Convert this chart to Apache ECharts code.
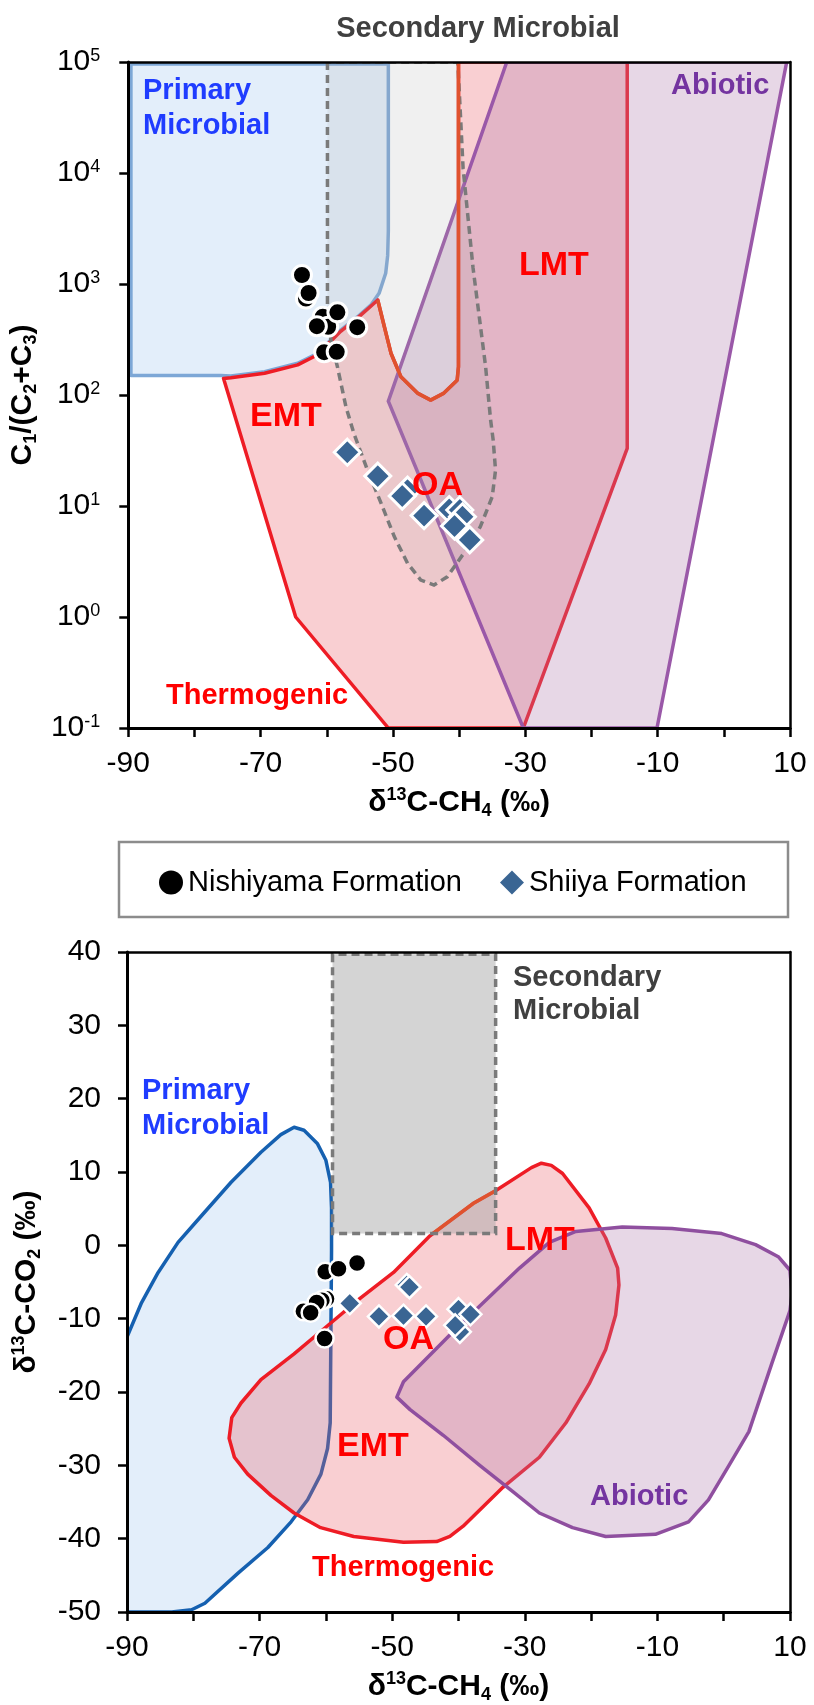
<!DOCTYPE html>
<html><head><meta charset="utf-8">
<script src="https://cdn.jsdelivr.net/npm/echarts@6/dist/echarts.min.js"></script>
<style>html,body{margin:0;padding:0;background:#fff}#c{width:814px;height:1705px}</style>
</head><body><div id="c"></div>
<script>
// ---------------- DATA ----------------
// Top chart: delta13C-CH4 (permil) vs C1/(C2+C3)
const nishiyamaTop = [[-63.15,740],[-60.6,507],[-59.8,412],[-60.4,243],[-63.75,1205],[-62.75,830],[-58.4,556],[-61.5,417],[-55.4,408],[-58.5,245]];
const shiiyaTop = [[-47.8,13.9],[-41.5,9.3],[-39.9,9.2],[-39.5,8.0],[-56.9,30.5],[-52.3,18.6],[-48.6,12.3],[-45.3,8.2],[-40.7,6.6],[-38.4,4.95]];
// Bottom chart: delta13C-CH4 vs delta13C-CO2 (permil)
const nishiyamaBottom = [[-59.9,-7.3],[-60.1,-3.6],[-58.1,-3.2],[-55.3,-2.4],[-60.6,-7.5],[-61.4,-7.8],[-63.4,-9.0],[-62.3,-9.2],[-60.2,-12.7]];
const shiiyaBottom = [[-47.8,-5.4],[-47.4,-5.7],[-56.4,-7.9],[-52.0,-9.7],[-48.3,-9.6],[-44.9,-9.7],[-39.8,-11.8],[-40.0,-8.7],[-38.2,-9.4],[-40.5,-10.9]];

// Genetic fields, top chart (x, C1/(C2+C3))
const primaryTop = [[-89.6,96000],[-89.6,150],[-76,150],[-74.5,148],[-69.4,162],[-64.4,193],[-61.9,229],[-59.9,292],[-57.9,385],[-55.35,507],[-53.35,645],[-52.1,824],[-51.1,1250],[-50.8,1800],[-50.7,3000],[-50.7,96000]];
const secondaryTop = [[-59.9,100000],[-59.9,600],[-59.4,316],[-58.4,180],[-57.1,78],[-55.9,45],[-53.85,21],[-51.8,10.6],[-49.8,5.3],[-47.8,3.05],[-45.8,2.15],[-43.8,1.94],[-41.8,2.3],[-39.3,3.75],[-36.8,6.5],[-35.0,12.1],[-34.5,21],[-34.85,39],[-35.25,60],[-36.0,180],[-37.9,1400],[-39.4,11000],[-40.2,100000]];
const thermoTop = [[-75.6,141],[-74.5,143],[-69.4,157],[-64.4,187],[-61.9,222],[-59.9,285],[-57.9,375],[-55.35,495],[-53.35,630],[-52.3,718],[-51.3,412],[-50.3,238],[-48.8,146],[-46.3,104],[-44.3,90],[-42.3,104],[-40.3,136],[-40.1,180],[-40.1,100000],[-14.6,100000],[-14.6,33],[-30.3,0.1],[-50.7,0.1],[-64.7,1.0]];
const thermoTopOrange = [[-52.3,718],[-51.3,412],[-50.3,238],[-48.8,146],[-46.3,104],[-44.3,90],[-42.3,104],[-40.3,136],[-40.1,180],[-40.1,100000]];
const abioticTop = [[-32.8,100000],[-50.7,88],[-30.3,0.1],[-10.1,0.1],[9.5,100000]];

// Genetic fields, bottom chart (x, delta13C-CO2)
const primaryBottom = [[-90,-50],[-90,-12.5],[-87.8,-7.8],[-85.3,-3.7],[-82.3,0.4],[-78.8,4.0],[-74.3,8.6],[-69.8,12.7],[-66.8,15.1],[-64.8,16.1],[-63.3,15.7],[-61.3,13.9],[-60.0,11.6],[-59.3,8.6],[-59.15,5.1],[-59.15,-0.7],[-59.25,-12.5],[-59.35,-24.2],[-59.75,-27.7],[-60.75,-31.2],[-62.75,-34.7],[-65.25,-37.7],[-68.75,-41.2],[-73.25,-44.7],[-78.25,-48.8],[-80.25,-49.7],[-83.25,-50]];
const secondaryBottom = [[-59.0,39.7],[-59.0,1.6],[-34.4,1.6],[-34.4,39.7]];
const thermoBottom = [[-74.6,-26.3],[-74.2,-23.5],[-72.8,-21.5],[-69.8,-18.3],[-64.8,-14.8],[-59.8,-11.0],[-54.8,-7.2],[-49.8,-3.7],[-44.3,1.3],[-37.8,5.7],[-34.3,7.5],[-29.0,10.6],[-27.5,11.2],[-26.0,10.9],[-24.3,9.8],[-20.3,5.1],[-17.8,1.0],[-16.0,-3.1],[-15.8,-5.4],[-16.3,-9.5],[-17.8,-14.2],[-20.3,-18.9],[-23.8,-24.2],[-27.8,-28.9],[-33.3,-33.0],[-39.3,-38.3],[-41.3,-39.7],[-43.3,-40.4],[-48.3,-40.5],[-55.8,-39.7],[-60.8,-38.5],[-64.8,-36.5],[-68.3,-34.1],[-71.8,-31.2],[-73.8,-28.9]];
const thermoBottomOrange = [[-43.9,1.6],[-37.8,5.7],[-34.4,7.45]];
const abioticBottom = [[-49.3,-20.7],[-48.3,-18.6],[-40.3,-11.3],[-30.8,-3.1],[-26.3,0.4],[-22.3,1.9],[-15.3,2.5],[-7.8,2.3],[-0.3,1.6],[4.8,0.1],[8.3,-1.6],[10,-3.4],[10.3,-6.6],[10,-8.9],[7.3,-16.0],[3.8,-25.4],[0.8,-30.0],[-2.3,-34.7],[-5.3,-37.7],[-10.3,-39.4],[-17.8,-39.7],[-22.8,-38.5],[-27.8,-36.5],[-31.8,-33.6],[-36.8,-30.0],[-42.3,-25.9],[-47.3,-22.4]];

// Tick labels
const xTickLabels = [-90, -70, -50, -30, -10, 10];
const yBottomTickLabels = [40, 30, 20, 10, 0, -10, -20, -30, -40, -50];

// ---------------- CHART ----------------
const FONT = '"Liberation Sans", Arial, Helvetica, sans-serif';
const chart = echarts.init(document.getElementById('c'), null, {renderer: 'canvas'});

function shape(gi, pts, kind, st, z) {
  return {
    type: 'custom', xAxisIndex: gi, yAxisIndex: gi, data: pts, clip: true, silent: true, z: z || 2,
    encode: {x: 0, y: 1}, animation: false,
    renderItem: function (params, api) {
      if (params.dataIndex !== 0) return null;
      const points = pts.map(p => api.coord(p));
      return {type: kind, shape: {points: points}, style: st};
    }
  };
}
const rich = {
  d: {fontFamily: FONT, fontWeight: 'bold', fontSize: 30, color: '#000', lineHeight: 34},
  sup: {fontFamily: FONT, fontWeight: 'bold', fontSize: 18, color: '#000', lineHeight: 21, verticalAlign: 'top'},
  sub: {fontFamily: FONT, fontWeight: 'bold', fontSize: 18, color: '#000', lineHeight: 18, verticalAlign: 'bottom'}
};
const tickRich = {
  b: {fontFamily: FONT, fontSize: 30, color: '#000', lineHeight: 30},
  s: {fontFamily: FONT, fontSize: 18, color: '#000', lineHeight: 20, verticalAlign: 'top'}
};
function mainX(gi) {
  return {
    gridIndex: gi, type: 'value', min: -90, max: 10, interval: 10, z: 10,
    axisLine: {show: true, onZero: false, lineStyle: {color: '#000', width: 3}},
    axisTick: {show: true, inside: false, length: 9, lineStyle: {color: '#000', width: 2.5}},
    axisLabel: {margin: 21, fontSize: 30, fontFamily: FONT, color: '#000', showMinLabel: true, showMaxLabel: true,
      formatter: v => xTickLabels.indexOf(v) >= 0 ? String(v) : ''},
    splitLine: {show: false},
    name: '{d|δ}{sup|13}{d|C-CH}{sub|4}{d| (‰)}', nameLocation: 'middle', nameGap: 58,
    nameTextStyle: {rich: rich}
  };
}
function frameX(gi) {
  return {gridIndex: gi, type: 'value', position: 'top', min: -90, max: 10, z: 10,
    axisLine: {show: true, onZero: false, lineStyle: {color: '#000', width: 2.5}},
    axisTick: {show: false}, axisLabel: {show: false}, splitLine: {show: false}};
}
function frameY(gi, type, min, max) {
  return {gridIndex: gi, type: type, position: 'right', min: min, max: max, z: 10,
    axisLine: {show: true, onZero: false, lineStyle: {color: '#000', width: 2.5}},
    axisTick: {show: false}, axisLabel: {show: false}, splitLine: {show: false}};
}

const pink = 'rgba(235,95,105,0.3)', purpleFill = 'rgba(175,122,172,0.3)', blueFill = 'rgba(162,198,238,0.3)';
const red = '#ee1c25', orange = '#e0522e';

const option = {
  animation: false,
  backgroundColor: '#fff',
  grid: [
    {left: 127, top: 62, width: 663, height: 666},
    {left: 127, top: 952, width: 663, height: 666}
  ],
  xAxis: [mainX(0), mainX(1), frameX(0), frameX(1)],
  yAxis: [
    {gridIndex: 0, type: 'log', logBase: 10, min: 0.1, max: 100000, z: 10,
      axisLine: {show: true, onZero: false, lineStyle: {color: '#000', width: 3}},
      axisTick: {show: true, inside: false, length: 9, lineStyle: {color: '#000', width: 2.5}},
      axisLabel: {margin: 28, rich: tickRich,
        formatter: v => '{b|10}{s|' + Math.round(Math.log10(v)) + '}'},
      splitLine: {show: false},
      name: '{d|C}{sub|1}{d|/(C}{sub|2}{d|+C}{sub|3}{d|)}', nameLocation: 'middle', nameGap: 83,
      nameTextStyle: {rich: rich}},
    {gridIndex: 1, type: 'value', min: -50, max: 40, interval: 10, z: 10,
      axisLine: {show: true, onZero: false, lineStyle: {color: '#000', width: 3}},
      axisTick: {show: true, inside: false, length: 9, lineStyle: {color: '#000', width: 2.5}},
      axisLabel: {margin: 26, fontSize: 30, fontFamily: FONT, color: '#000', showMinLabel: true, showMaxLabel: true,
        formatter: v => yBottomTickLabels.indexOf(v) >= 0 ? String(v) : ''},
      splitLine: {show: false},
      name: '{d|δ}{sup|13}{d|C-CO}{sub|2}{d| (‰)}', nameLocation: 'middle', nameGap: 83,
      nameTextStyle: {rich: rich}},
    frameY(0, 'log', 0.1, 100000),
    frameY(1, 'value', -50, 40)
  ],
  legend: {
    left: 159, top: 868, itemWidth: 24, itemHeight: 24, itemGap: 38, padding: 0,
    textStyle: {fontSize: 29, fontFamily: FONT, color: '#000'},
    itemStyle: {borderWidth: 0},
    data: [{name: 'Nishiyama Formation', icon: 'circle'}, {name: 'Shiiya Formation', icon: 'diamond'}]
  },
  series: [
    // top chart fields
    shape(0, primaryTop, 'polygon', {fill: blueFill, stroke: '#7da7d6', lineWidth: 3.5, lineJoin: 'round'}),
    shape(0, thermoTop, 'polygon', {fill: pink, stroke: red, lineWidth: 3.5, lineJoin: 'round'}),
    shape(0, abioticTop, 'polygon', {fill: purpleFill, stroke: '#9a58a8', lineWidth: 3.5}),
    shape(0, secondaryTop, 'polygon', {fill: 'rgba(170,170,170,0.18)', stroke: 'none'}),
    shape(0, secondaryTop, 'polygon', {fill: 'none', stroke: '#7a7a7a', lineWidth: 3.5, lineDash: [8, 5]}),
    shape(0, thermoTopOrange, 'polyline', {fill: 'none', stroke: orange, lineWidth: 3.5, lineJoin: 'round'}),
    // bottom chart fields
    shape(1, primaryBottom, 'polygon', {fill: blueFill, stroke: '#1560b0', lineWidth: 3.5, lineJoin: 'round'}),
    shape(1, thermoBottom, 'polygon', {fill: pink, stroke: red, lineWidth: 3.5, lineJoin: 'round'}),
    shape(1, abioticBottom, 'polygon', {fill: purpleFill, stroke: '#8f4f9f', lineWidth: 3.5, lineJoin: 'round'}),
    shape(1, secondaryBottom, 'polygon', {fill: 'rgba(170,170,170,0.5)', stroke: 'none'}),
    shape(1, thermoBottomOrange, 'polyline', {fill: 'none', stroke: orange, lineWidth: 3.5}),
    shape(1, secondaryBottom, 'polygon', {fill: 'none', stroke: '#7a7a7a', lineWidth: 3.5, lineDash: [8, 5]}),
    // samples
    {type: 'scatter', name: 'Nishiyama Formation', xAxisIndex: 0, yAxisIndex: 0, data: nishiyamaTop, z: 5,
      symbol: 'circle', symbolSize: 19, itemStyle: {color: '#000', borderColor: '#fff', borderWidth: 3, opacity: 1}},
    {type: 'scatter', name: 'Shiiya Formation', xAxisIndex: 0, yAxisIndex: 0, data: shiiyaTop, z: 5,
      symbol: 'diamond', symbolSize: 26, itemStyle: {color: '#3a6593', borderColor: '#fff', borderWidth: 3, opacity: 1}},
    {type: 'scatter', name: 'Nishiyama Formation', xAxisIndex: 1, yAxisIndex: 1, data: nishiyamaBottom, z: 5,
      symbol: 'circle', symbolSize: 18, itemStyle: {color: '#000', borderColor: '#fff', borderWidth: 2.5, opacity: 1}},
    {type: 'scatter', name: 'Shiiya Formation', xAxisIndex: 1, yAxisIndex: 1, data: shiiyaBottom, z: 5,
      symbol: 'diamond', symbolSize: 22, itemStyle: {color: '#3a6593', borderColor: '#fff', borderWidth: 2.5, opacity: 1}}
  ],
  graphic: []
};

function label(text, x, capTop, size, color, align) {
  return {type: 'text', x: x, y: capTop - 0.13 * size, z: 20, silent: true,
    style: {text: text, fontFamily: FONT, fontWeight: 'bold', fontSize: size, fill: color,
      align: align || 'left', verticalAlign: 'top'}};
}
const RED = '#ff0000', BLUE = '#1f3cff', PURPLE = '#7434a0', GREY = '#404040';
option.graphic = [
  {type: 'rect', z: 20, silent: true, shape: {x: 119, y: 842, width: 669, height: 75},
    style: {fill: 'none', stroke: '#8c8c8c', lineWidth: 2.5}},
  // top chart
  label('Secondary Microbial', 478, 18, 29, GREY, 'center'),
  label('Primary', 143, 80, 29, BLUE),
  label('Microbial', 143, 115, 29, BLUE),
  label('Abiotic', 671, 75, 29, PURPLE),
  label('LMT', 519, 253, 34, RED),
  label('EMT', 250, 404, 34, RED),
  label('OA', 412, 473, 34, RED),
  label('Thermogenic', 166, 685, 29, RED),
  // bottom chart
  label('Primary', 142, 1080, 29, BLUE),
  label('Microbial', 142, 1115, 29, BLUE),
  label('Secondary', 513, 967, 29, GREY),
  label('Microbial', 513, 1000, 29, GREY),
  label('LMT', 505, 1228, 34, RED),
  label('OA', 383, 1327, 34, RED),
  label('EMT', 337, 1434, 34, RED),
  label('Thermogenic', 312, 1557, 29, RED),
  label('Abiotic', 590, 1486, 29, PURPLE)
];

chart.setOption(option);
</script>
</body></html>
